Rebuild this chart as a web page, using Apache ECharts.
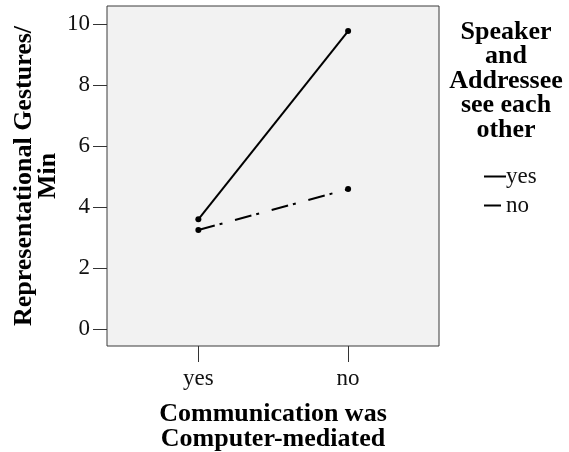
<!DOCTYPE html>
<html>
<head>
<meta charset="utf-8">
<script src="https://cdn.jsdelivr.net/npm/echarts@6/dist/echarts.min.js"></script>
<style>
  html, body { margin: 0; padding: 0; background: #fff; }
  #chart { width: 569px; height: 452px; }
</style>
</head>
<body>
<div id="chart"></div>
<script>
// x categories (Communication was Computer-mediated)
var categories = ['yes', 'no'];
// series: Speaker and Addressee see each other
var seriesNames = ['yes', 'no'];
var seeYes = [3.60, 9.77];
var seeNo = [3.25, 4.59];
var yTicks = [0, 2, 4, 6, 8, 10];

var font = 'Liberation Serif, Times New Roman, serif';

function pairs(vals) {
  return vals.map(function (v, i) { return [i, v]; });
}

var chart = echarts.init(document.getElementById('chart'));
chart.setOption({
  animation: false,
  backgroundColor: '#ffffff',
  grid: {
    left: 107, top: 6, right: 130, bottom: 106,
    outerBoundsMode: 'none',
    containLabel: false,
    show: true,
    backgroundColor: '#f2f2f2',
    borderColor: '#3a3a3a',
    borderWidth: 1
  },
  xAxis: {
    type: 'value',
    min: -0.61, max: 1.607,
    splitLine: { show: false },
    axisLine: { show: false, onZero: false },
    axisTick: { show: true, length: 16, customValues: [0, 1], lineStyle: { color: '#333', width: 1 } },
    axisLabel: {
      customValues: [0, 1],
      formatter: function (v) { return categories[Math.round(v)]; },
      margin: 21,
      color: '#111', fontFamily: font, fontSize: 23
    },
    name: 'Communication was\nComputer-mediated',
    nameLocation: 'middle',
    nameGap: 56,
    nameMoveOverlap: false,
    nameTextStyle: { fontFamily: font, fontSize: 26, fontWeight: 'bold', color: '#000', lineHeight: 25 }
  },
  yAxis: {
    type: 'value',
    min: -0.55, max: 10.59,
    splitLine: { show: false },
    axisLine: { show: false, onZero: false },
    axisTick: { show: true, length: 14, customValues: yTicks, lineStyle: { color: '#333', width: 1 } },
    axisLabel: {
      customValues: yTicks,
      margin: 17,
      color: '#111', fontFamily: font, fontSize: 23
    },
    name: 'Representational Gestures/\nMin',
    nameLocation: 'middle',
    nameRotate: 90,
    nameGap: 47,
    nameMoveOverlap: false,
    nameTextStyle: { fontFamily: font, fontSize: 26, fontWeight: 'bold', color: '#000', lineHeight: 24 }
  },
  legend: {
    orient: 'vertical',
    left: 478, top: 160,
    itemWidth: 22, itemHeight: 14, itemGap: 6,
    itemStyle: { opacity: 0 },
    textStyle: { fontFamily: font, fontSize: 23, color: '#111', lineHeight: 21, padding: [0, 0, 0, -5] },
    data: seriesNames
  },
  graphic: [{
    type: 'text',
    x: 506, y: 20,
    style: {
      text: 'Speaker\nand\nAddressee\nsee each\nother',
      textAlign: 'center',
      textVerticalAlign: 'top',
      font: 'bold 26px ' + font,
      lineHeight: 24.5,
      fill: '#000'
    }
  }],
  series: [
    {
      name: seriesNames[0],
      type: 'line',
      data: pairs(seeYes),
      symbol: 'circle', symbolSize: 6,
      itemStyle: { color: '#000' },
      lineStyle: { color: '#000', width: 2, type: 'solid' }
    },
    {
      name: seriesNames[1],
      type: 'line',
      data: pairs(seeNo),
      symbol: 'circle', symbolSize: 6,
      itemStyle: { color: '#000' },
      lineStyle: { color: '#000', width: 2, type: [17, 5, 3, 13] }
    }
  ]
});
</script>
</body>
</html>
